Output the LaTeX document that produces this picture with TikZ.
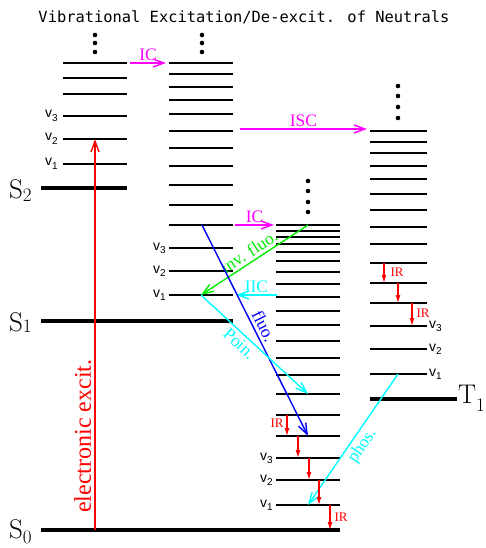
\documentclass[tikz,border=0pt]{standalone}
\usepackage{fontspec}
\newfontfamily\titlefont{DejaVu Sans Mono}
\newfontfamily\labfont{Liberation Serif}
\newfontfamily\vibfont{Liberation Sans}
\usetikzlibrary{
    arrows.meta,
    positioning,
    calc
}
\definecolor{fluogreen}{RGB}{0,235,0}
\definecolor{icmagenta}{RGB}{255,0,255}
\definecolor{iccyan}{RGB}{0,255,255}
\definecolor{fluoblue}{RGB}{0,0,255}
\definecolor{irred}{RGB}{255,0,0}
% vibrational quantum number with lowered index
\newcommand\vnum[1]{v\lower3.5pt\hbox{\fontsize{10}{10}\selectfont#1}}
% state name with lowered index
\newcommand\statename[3]{#1\lower#3\hbox{\fontsize{19}{19}\selectfont#2}}
\tikzset{
    % --- Vibrational level (thin bar) ---
    level/.style = {
        line width=2.2pt
    },
    % --- Lowest level of an electronic state ---
    ground/.style = {
        line width=3.8pt
    },
    % --- Electronic state name ---
    state/.style = {
        font=\fontsize{27}{27}\selectfont, inner sep=0pt
    },
    % --- Vibrational label v_n ---
    vib/.style = {
        font=\vibfont\fontsize{14}{14}\selectfont, inner sep=0pt
    },
    % --- Process label on an arrow ---
    proc/.style = {
        font=\labfont\fontsize{17.5}{17.5}\selectfont, inner sep=2pt
    },
    % --- Process label sloped along a diagonal arrow ---
    slproc/.style = {
        proc, sloped, inner sep=3pt
    },
    % --- IR label ---
    irlab/.style = {
        font=\labfont\fontsize{13}{13}\selectfont, text=irred, inner sep=0pt
    },
    % --- Radiative / non-radiative transition ---
    trans/.style = {
        line width=1.4pt, -{Straight Barb[length=11pt,width=8pt]}
    },
    % --- IR relaxation step ---
    ir/.style = {
        irred, line width=1.1pt, -{Latex[length=8pt,width=5pt]}
    },
    % --- Continuation dot ---
    dot/.style = {
        circle, fill=black,
        minimum size=4.6pt, inner sep=0pt
    }
}

\begin{document}
\begin{tikzpicture}[x=1pt, y=-1pt]
\useasboundingbox (0,0) rectangle (485,548);

% ---------------------------------------------------------
% Title
% ---------------------------------------------------------
\node[font=\titlefont\fontsize{15.4}{16}\selectfont, anchor=base] (title) at (244,23)
    {Vibrational Excitation/De-excit. of Neutrals};

% ---------------------------------------------------------
% Level ladders
% ---------------------------------------------------------
% S2 ladder
\foreach \y in {63,78,94,116,139,164}
    \draw[level] (63,\y) -- (127,\y);
\draw[ground] (41,188) -- (127,188);
% S1 ladder
\foreach \y in {63,74,87,100,114,131,148,166,185,205,225,248,271,295}
    \draw[level] (169,\y) -- (233,\y);
\draw[ground] (41,321) -- (233,321);
% S0 ladder
\foreach \y in {225,231,237,244,252,261,272,284,297,311,325,341,358,375,394,415,436,458,480,505}
    \draw[level] (276,\y) -- (340,\y);
\draw[ground] (41,530) -- (340,530);
% T1 ladder
\foreach \y in {131,142,153,166,179,194,210,227,244,263,283,303,326,349,374}
    \draw[level] (370,\y) -- (427,\y);
\draw[ground] (370,399) -- (457,399);

% continuation dots
\foreach \y in {35,43,52} {
    \node[dot] (dotA\y) at (95,\y) {};
    \node[dot] (dotB\y) at (202,\y) {};
}
\foreach \y in {181,191,202,212}
    \node[dot] (dotC\y) at (308,\y) {};
\foreach \y in {86,96,107,118}
    \node[dot] (dotD\y) at (398,\y) {};

% ---------------------------------------------------------
% State and level labels
% ---------------------------------------------------------
\node[state, anchor=base west] (S2) at (9,198) {\statename{S}{2}{3pt}};
\node[state, anchor=base west] (S1) at (9,331) {\statename{S}{1}{1pt}};
\node[state, anchor=base west] (S0) at (9,538) {\statename{S}{0}{5pt}};
\node[state, anchor=base west] (T1) at (458,403) {\statename{T}{1}{8pt}};

\node[vib, anchor=base east] (vA3) at (58,118) {\vnum{3}};
\node[vib, anchor=base east] (vA2) at (58,141) {\vnum{2}};
\node[vib, anchor=base east] (vA1) at (58,166) {\vnum{1}};

\node[vib, anchor=base east] (vB3) at (166,250) {\vnum{3}};
\node[vib, anchor=base east] (vB2) at (166,273) {\vnum{2}};
\node[vib, anchor=base east] (vB1) at (166,297) {\vnum{1}};

\node[vib, anchor=base east] (vC3) at (273,460) {\vnum{3}};
\node[vib, anchor=base east] (vC2) at (273,482) {\vnum{2}};
\node[vib, anchor=base east] (vC1) at (273,507) {\vnum{1}};

\node[vib, anchor=base west] (vD3) at (429,328) {\vnum{3}};
\node[vib, anchor=base west] (vD2) at (429,351) {\vnum{2}};
\node[vib, anchor=base west] (vD1) at (429,376) {\vnum{1}};

% ---------------------------------------------------------
% Transition end points
% ---------------------------------------------------------
\coordinate (excA) at (95,530);
\coordinate (excB) at (95,139);
\coordinate (icTopA) at (130,63);
\coordinate (icTopB) at (166,63);
\coordinate (iscA) at (240,129);
\coordinate (iscB) at (367,129);
\coordinate (icMidA) at (235,225);
\coordinate (icMidB) at (274,225);
\coordinate (iicA) at (277,295);
\coordinate (iicB) at (236,295);
\coordinate (S1top) at (202,225);
\coordinate (S1v1) at (201,295);
\coordinate (S0top) at (308,225);
\coordinate (S0mid) at (308,394);
\coordinate (S0hi) at (308,436);
\coordinate (S0v1) at (308,505);
\coordinate (T1v1) at (398,374);

% ---------------------------------------------------------
% Transitions
% ---------------------------------------------------------
\draw[trans, irred] (excA) -- (excB)
    node[sloped, above, pos=0.24, text=irred, font=\labfont\fontsize{24}{24}\selectfont, inner sep=3pt] {electronic excit.};

\draw[trans, icmagenta] (icTopA) -- (icTopB) node[proc, midway, above] {IC};
\draw[trans, icmagenta] (iscA) -- (iscB) node[proc, midway, above] {ISC};
\draw[trans, icmagenta] (icMidA) -- (icMidB) node[proc, midway, above] {IC};

\draw[trans, fluogreen] (S0top) -- (S1v1)
    node[slproc, above, pos=0.5] {inv. fluo.};
\draw[trans, iccyan] (iicA) -- (iicB) node[proc, midway, above] {IIC};
\draw[trans, fluoblue] (S1top) -- (S0hi)
    node[slproc, above, pos=0.5] {fluo.};
\draw[trans, iccyan] (S1v1) -- (S0mid)
    node[slproc, below, pos=0.42] {Poin.};
\draw[trans, iccyan] (T1v1) -- (S0v1)
    node[slproc, below, pos=0.5] {phos.};

% ---------------------------------------------------------
% IR cascades
% ---------------------------------------------------------
\foreach \x/\ya/\yb [count=\i] in {287/415/436, 298/436/458, 309/458/480, 319/480/505, 330/505/530} {
    \coordinate (irC\i a) at (\x,\ya);
    \coordinate (irC\i b) at (\x,\yb);
    \draw[ir] (irC\i a) -- (irC\i b);
}
\foreach \x/\ya/\yb [count=\i] in {384/263/283, 398/283/303, 412/303/326} {
    \coordinate (irD\i a) at (\x,\ya);
    \coordinate (irD\i b) at (\x,\yb);
    \draw[ir] (irD\i a) -- (irD\i b);
}
\node[irlab] (irC1) at (277,423) {IR};
\node[irlab] (irC5) at (341,517) {IR};
\node[irlab] (irD1) at (397,272) {IR};
\node[irlab] (irD3) at (423,313) {IR};

\end{tikzpicture}
\end{document}
